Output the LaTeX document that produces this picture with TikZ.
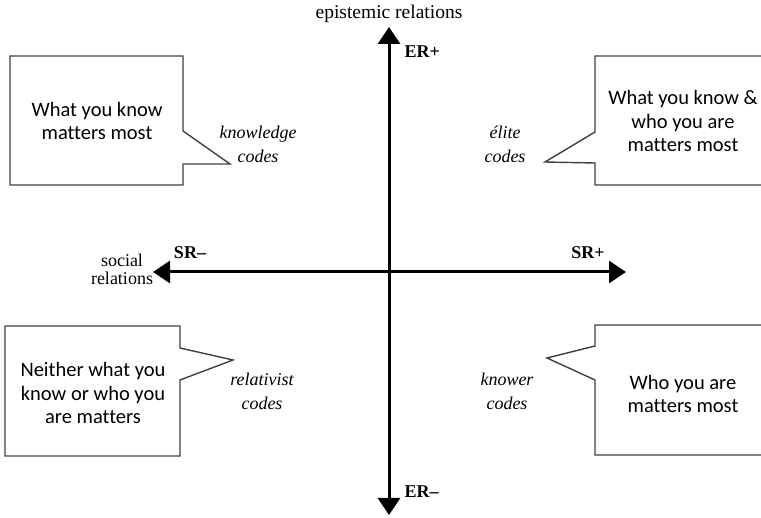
\documentclass[tikz,border=0pt]{standalone}
\usepackage{fontspec}
\setmainfont{Liberation Serif}
\newfontfamily\bubblefont[Ligatures=NoCommon]{Carlito}
\usetikzlibrary{arrows.meta}
\tikzset{>={Triangle[width=22pt,length=17pt]}}
\tikzset{
	axis/.style={line width=3pt},
	bubble/.style={draw=black!75, line width=1.4pt, line join=miter},
	bubbletext/.style={align=center, font=\bubblefont\fontsize{20.5}{23.5}\selectfont},
	codetext/.style={align=center, font=\itshape\fontsize{18}{24}\selectfont},
	axistext/.style={align=center, font=\fontsize{18}{18}\selectfont},
	poletext/.style={font=\bfseries\fontsize{18}{20}\selectfont}
}

\begin{document}
\begin{tikzpicture}[x=1pt,y=-1pt]
		\useasboundingbox (0,0) rectangle (761,518);
		\begin{scope}
			%axes
			\coordinate (ertop) at (389,27);
			\coordinate (erbot) at (389,515);
			\coordinate (srleft) at (153,272);
			\coordinate (srright) at (626,272);
			\draw[axis, <->] (erbot) -- (ertop);
			\draw[axis, <->] (srleft) -- (srright);
			%axis labels
			\node[axistext, font=\fontsize{19.5}{20}\selectfont] (epist) at (389,14) {epistemic relations};
			\node[axistext] (social) at (122,269) {social\\relations};
			\node[poletext, anchor=west] (erplus) at (401,52) {ER+};
			\node[poletext, anchor=west] (erminus) at (401,492) {ER\textendash};
			\node[poletext] (srminus) at (190,253) {SR\textendash};
			\node[poletext] (srplus) at (588,253) {SR+};
		\end{scope}
		\begin{scope}
			%codes
			\node[codetext] (knowledge) at (258,144) {knowledge\\codes};
			\node[codetext] (elite) at (505,144) {élite\\codes};
			\node[codetext] (relativist) at (262,391) {relativist\\codes};
			\node[codetext] (knower) at (507,391) {knower\\codes};
		\end{scope}
		\begin{scope}
			%top left bubble
			\draw[bubble] (183,164) -- (183,185) -- (10,185) -- (10,56) -- (183,56) -- (183,131) -- (230,164) -- cycle;
			\node[bubbletext] (tltext) at (97,121) {What you know\\matters most};
			%top right bubble
			\draw[bubble] (761,56) -- (595,56) -- (595,132) -- (545,162) -- (595,163) -- (595,185) -- (761,185);
			\node[bubbletext] (trtext) at (683,121) {What you know \&\\who you are\\matters most};
			%bottom left bubble
			\draw[bubble] (180,380) -- (180,456) -- (5,456) -- (5,326) -- (180,326) -- (180,348) -- (233,360) -- cycle;
			\node[bubbletext] (bltext) at (93,393) {Neither what you\\know or who you\\are matters};
			%bottom right bubble
			\draw[bubble] (761,325) -- (595,325) -- (595,346) -- (547,358) -- (595,380) -- (595,455) -- (761,455);
			\node[bubbletext] (brtext) at (683,394) {Who you are\\matters most};
		\end{scope}
	\end{tikzpicture}
\end{document}
